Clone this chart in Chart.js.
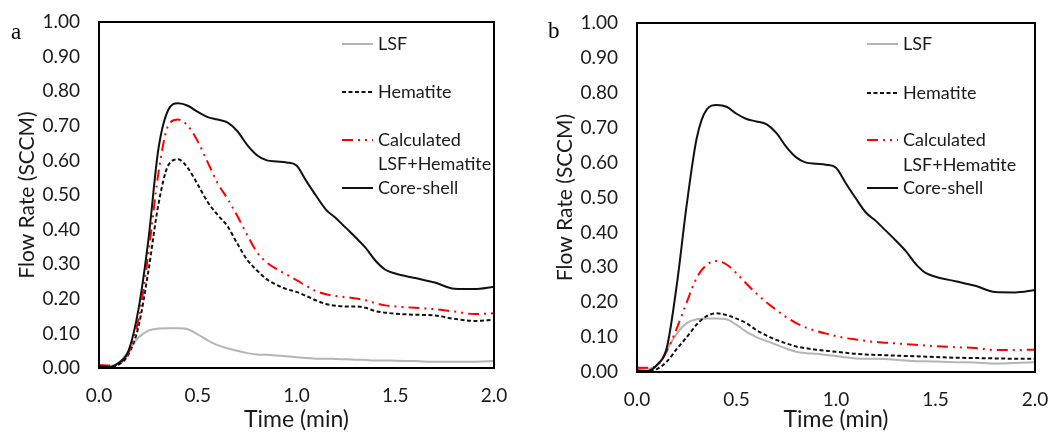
<!DOCTYPE html>
<html>
<head>
<meta charset="utf-8">
<script src="https://cdn.jsdelivr.net/npm/chart.js@4.4.0/dist/chart.umd.min.js"></script>
<style>
  html, body { margin: 0; padding: 0; background: #fff; }
  #wrap { position: relative; width: 1051px; height: 433px; overflow: hidden; }
  canvas { position: absolute; top: 0; }
  #ca { left: 0; }
  #cb { left: 526px; }
</style>
</head>
<body>
<div id="wrap">
  <canvas id="ca" width="525" height="433"></canvas>
  <canvas id="cb" width="525" height="433"></canvas>
</div>
<script>
// ---- data (time in min, flow rate in SCCM) ----
const times = [0, 0.05, 0.1, 0.15, 0.2, 0.25, 0.3, 0.35, 0.4, 0.45, 0.5, 0.55, 0.6, 0.65, 0.7, 0.75, 0.8, 0.85, 0.9, 0.95,
               1.0, 1.05, 1.1, 1.15, 1.2, 1.25, 1.3, 1.35, 1.4, 1.45, 1.5, 1.6, 1.7, 1.8, 1.9, 2.0];

const seriesNames = ["LSF", "Hematite", "Calculated LSF+Hematite", "Core-shell"];
const legendLines = [["LSF"], ["Hematite"], ["Calculated", "LSF+Hematite"], ["Core-shell"]];

// Panel a
const aLSF = [0.008, 0.006, 0.015, 0.05, 0.088, 0.108, 0.114, 0.115, 0.115, 0.112, 0.097, 0.08, 0.066, 0.057, 0.05, 0.043, 0.039, 0.038, 0.036, 0.034,
              0.031, 0.029, 0.027, 0.027, 0.026, 0.025, 0.024, 0.023, 0.022, 0.022, 0.021, 0.02, 0.018, 0.018, 0.018, 0.02];
const aHematite = [0.005, 0.003, 0.01, 0.04, 0.12, 0.28, 0.47, 0.585, 0.603, 0.578, 0.53, 0.48, 0.443, 0.41, 0.36, 0.313, 0.282, 0.256, 0.24, 0.228,
                   0.22, 0.208, 0.195, 0.185, 0.18, 0.178, 0.178, 0.174, 0.164, 0.16, 0.157, 0.154, 0.152, 0.142, 0.136, 0.139];
const aCalculated = [0.008, 0.007, 0.012, 0.045, 0.14, 0.33, 0.56, 0.70, 0.718, 0.70, 0.655, 0.595, 0.535, 0.49, 0.44, 0.385, 0.335, 0.305, 0.286, 0.27,
                     0.254, 0.237, 0.222, 0.213, 0.208, 0.205, 0.201, 0.196, 0.187, 0.181, 0.178, 0.174, 0.17, 0.163, 0.156, 0.158];
const aCoreShell = [0.005, 0.003, 0.015, 0.05, 0.17, 0.37, 0.63, 0.745, 0.765, 0.758, 0.74, 0.725, 0.718, 0.71, 0.685, 0.645, 0.615, 0.60, 0.597, 0.594,
                    0.585, 0.54, 0.497, 0.457, 0.433, 0.405, 0.377, 0.347, 0.31, 0.284, 0.273, 0.26, 0.247, 0.229, 0.228, 0.235];

// Panel b
const bLSF = [0.012, 0.01, 0.018, 0.063, 0.11, 0.14, 0.151, 0.153, 0.153, 0.151, 0.135, 0.115, 0.1, 0.089, 0.078, 0.067, 0.058, 0.054, 0.052, 0.049,
              0.046, 0.042, 0.039, 0.038, 0.038, 0.037, 0.035, 0.033, 0.031, 0.031, 0.03, 0.028, 0.027, 0.024, 0.026, 0.028];
const bHematite = [0.003, 0.0, 0.008, 0.03, 0.066, 0.10, 0.136, 0.16, 0.168, 0.163, 0.153, 0.14, 0.12, 0.105, 0.092, 0.082, 0.073, 0.068, 0.064, 0.061,
                   0.058, 0.055, 0.052, 0.05, 0.049, 0.048, 0.047, 0.046, 0.045, 0.044, 0.043, 0.041, 0.04, 0.039, 0.038, 0.038];
const bCalculated = [0.012, 0.012, 0.018, 0.06, 0.125, 0.2, 0.27, 0.307, 0.318, 0.308, 0.283, 0.253, 0.225, 0.2, 0.178, 0.157, 0.14, 0.127, 0.118, 0.11,
                     0.103, 0.097, 0.093, 0.089, 0.086, 0.084, 0.082, 0.08, 0.078, 0.076, 0.074, 0.071, 0.069, 0.063, 0.063, 0.064];
const bCoreShell = [0.005, 0.003, 0.02, 0.07, 0.25, 0.48, 0.67, 0.752, 0.765, 0.76, 0.74, 0.725, 0.718, 0.71, 0.685, 0.645, 0.615, 0.60, 0.597, 0.594,
                    0.585, 0.54, 0.497, 0.457, 0.433, 0.405, 0.377, 0.347, 0.31, 0.284, 0.273, 0.26, 0.247, 0.229, 0.228, 0.235];

const xTicks = [0, 0.5, 1.0, 1.5, 2.0];
const yTicks = [0, 0.1, 0.2, 0.3, 0.4, 0.5, 0.6, 0.7, 0.8, 0.9, 1.0];

// ---- styles ----
const FONT = "Lato, 'Open Sans', sans-serif";
const TXT = '#1a1a1a';
const styles = [
  { color: '#b5b5b5', dash: [] },
  { color: '#111111', dash: [4, 2.5] },
  { color: '#ff0000', dash: [11, 5, 2, 5, 2, 5] },
  { color: '#111111', dash: [] }
];

function makeDatasets(arrs) {
  return arrs.map((arr, i) => ({
    label: seriesNames[i],
    data: times.map((t, k) => ({ x: t, y: arr[k] })),
    borderColor: styles[i].color,
    borderDash: styles[i].dash,
    borderWidth: 2,
    pointRadius: 0,
    fill: false,
    cubicInterpolationMode: 'monotone',
    order: 4 - i
  }));
}

const framePlugin = {
  id: 'frame',
  afterDatasetsDraw(chart) {
    const { ctx, chartArea: a } = chart;
    ctx.save();
    ctx.strokeStyle = '#000';
    ctx.lineWidth = 2;
    ctx.setLineDash([]);
    ctx.strokeRect(a.left, a.top, a.right - a.left, a.bottom - a.top);
    ctx.restore();
  }
};

const legendPlugin = {
  id: 'customLegend',
  afterDraw(chart, args, opts) {
    const { ctx, chartArea: a } = chart;
    ctx.save();
    ctx.font = opts.fontSize + 'px ' + FONT;
    ctx.fillStyle = TXT;
    ctx.textBaseline = 'middle';
    ctx.textAlign = 'left';
    const x0 = a.left + opts.dx;
    opts.rows.forEach((r, i) => {
      const st = styles[i];
      ctx.strokeStyle = st.color;
      ctx.lineWidth = 2;
      ctx.setLineDash(st.dash);
      ctx.beginPath();
      ctx.moveTo(x0, r[0]);
      ctx.lineTo(x0 + opts.sampleW, r[0]);
      ctx.stroke();
      legendLines[i].forEach((txt, j) => {
        ctx.fillText(txt, x0 + opts.sampleW + 5, r[j]);
      });
    });
    ctx.restore();
  }
};

const letterPlugin = {
  id: 'panelLetter',
  afterDraw(chart, args, opts) {
    const { ctx } = chart;
    ctx.save();
    ctx.font = '23px "Liberation Serif", "DejaVu Serif", serif';
    ctx.fillStyle = '#000';
    ctx.textBaseline = 'middle';
    ctx.textAlign = 'left';
    ctx.fillText(opts.text, opts.x, opts.y);
    ctx.restore();
  }
};

function makeChart(id, arrs, cfg) {
  return new Chart(document.getElementById(id), {
    type: 'line',
    data: { datasets: makeDatasets(arrs) },
    plugins: [framePlugin, legendPlugin, letterPlugin],
    options: {
      responsive: false,
      animation: false,
      events: [],
      layout: { padding: { top: cfg.top, right: cfg.right, left: cfg.left, bottom: 0 } },
      plugins: {
        legend: { display: false },
        tooltip: { enabled: false },
        customLegend: { dx: cfg.legendDx, sampleW: 31, fontSize: 18, rows: cfg.rows },
        panelLetter: cfg.letter
      },
      scales: {
        x: {
          type: 'linear',
          min: 0, max: 2,
          afterBuildTicks(s) { s.ticks = xTicks.map(v => ({ value: v })); },
          afterFit(s) { s.height = cfg.xH; s.paddingLeft = 0; s.paddingRight = 0; },
          grid: { display: false, drawTicks: false },
          border: { display: false },
          ticks: { padding: 16, color: TXT, font: { family: FONT, size: 19 }, maxRotation: 0,
                   callback: v => Number(v).toFixed(1) },
          title: { display: true, text: 'Time (min)', color: TXT, padding: { top: 0, bottom: 0 },
                   font: { family: FONT, size: 23 } }
        },
        y: {
          min: 0, max: 1,
          afterBuildTicks(s) { s.ticks = yTicks.map(v => ({ value: v })); },
          afterFit(s) { s.width = 99; s.paddingTop = 0; s.paddingBottom = 0; },
          grid: { display: false, drawTicks: false },
          border: { display: false },
          ticks: { padding: 19, color: TXT, font: { family: FONT, size: 19 },
                   callback: v => Number(v).toFixed(2) },
          title: { display: true, text: 'Flow Rate (SCCM)', color: TXT, padding: { top: 15, bottom: 0 },
                   font: { family: FONT, size: 21 } }
        }
      }
    }
  });
}

makeChart('ca', [aLSF, aHematite, aCalculated, aCoreShell], {
  top: 22, right: 31, left: 0, xH: 65, legendDx: 243,
  rows: [[44], [92], [140, 164], [188]],
  letter: { text: 'a', x: 11, y: 33 }
});
makeChart('cb', [bLSF, bHematite, bCalculated, bCoreShell], {
  top: 23, right: 16, left: 12, xH: 61, legendDx: 230,
  rows: [[44], [93], [140, 165], [188]],
  letter: { text: 'b', x: 22, y: 32 }
});
</script>
</body>
</html>
